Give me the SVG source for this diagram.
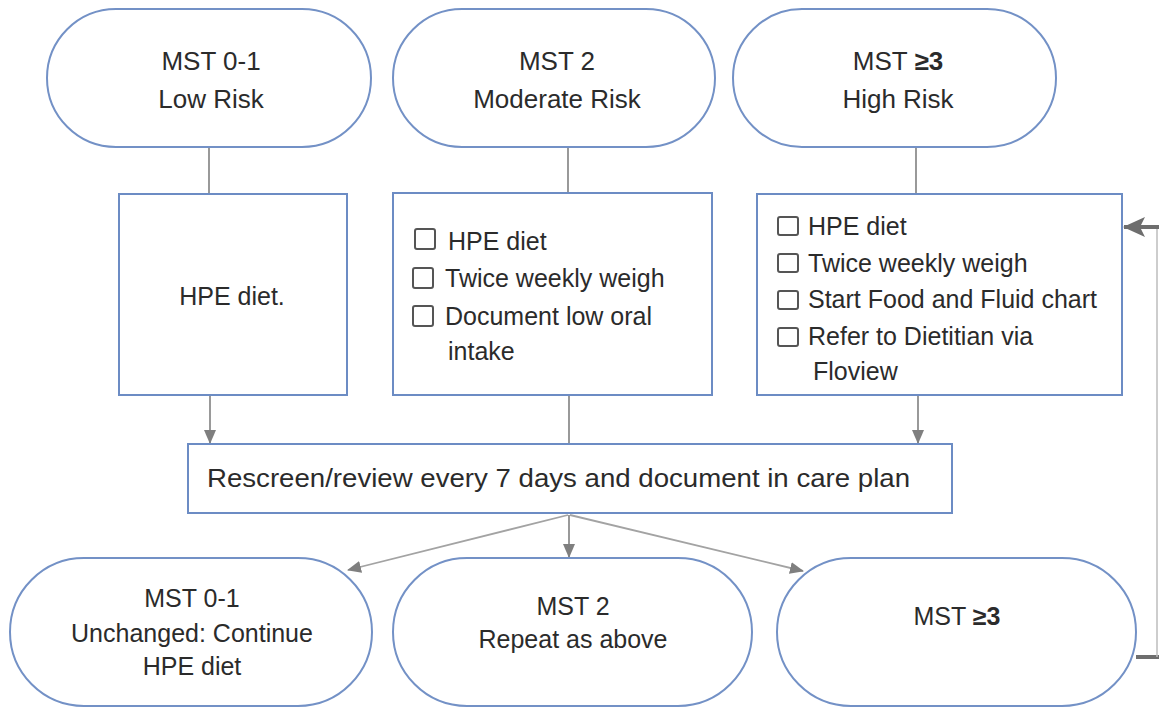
<svg xmlns="http://www.w3.org/2000/svg" width="1159" height="709" viewBox="0 0 1159 709">
<defs>
<style>
.term{fill:#fff;stroke:#7391c6;stroke-width:2}
.box{fill:#fff;stroke:#6c8cc4;stroke-width:2}
.t{font-family:"Liberation Sans",Arial,sans-serif;fill:#2b2b2b}
.title{font-size:26px;text-anchor:middle}
.bt{font-size:25px;text-anchor:middle}
.body{font-size:25px}
.cb{fill:none;stroke:#555;stroke-width:2}
.c{fill:none;stroke:#808080;stroke-width:1.6}
.cl{fill:none;stroke:#a3a3a3;stroke-width:1.8}
.fb{fill:none;stroke:#6e6e6e;stroke-width:4}
.fbv{fill:none;stroke:#bdbdbd;stroke-width:1.5}
</style>
<marker id="ah" markerUnits="userSpaceOnUse" markerWidth="14" markerHeight="12" refX="13" refY="6" orient="auto">
<path d="M0,0 L14,6 L0,12 z" fill="#7f7f7f"/>
</marker>
<marker id="ahb" markerUnits="userSpaceOnUse" markerWidth="22" markerHeight="20" refX="21" refY="10" orient="auto">
<path d="M0,0 L22,10 L0,20 L5,10 z" fill="#6e6e6e"/>
</marker>
</defs>

<g id="connectors">
<line class="c" x1="209" y1="147" x2="209" y2="194"/>
<line class="c" x1="568" y1="147" x2="568" y2="193"/>
<line class="c" x1="916" y1="147" x2="916" y2="194"/>
<line class="c" x1="210" y1="396" x2="210" y2="443" marker-end="url(#ah)"/>
<line class="c" x1="569" y1="396" x2="569" y2="444"/>
<line class="c" x1="918" y1="396" x2="918" y2="443" marker-end="url(#ah)"/>
<line class="cl" x1="568" y1="515" x2="348" y2="570" marker-end="url(#ah)"/>
<line class="c" x1="569" y1="515" x2="569" y2="557" marker-end="url(#ah)"/>
<line class="cl" x1="570" y1="515" x2="803" y2="571" marker-end="url(#ah)"/>
<path class="fb" d="M1136,657 L1159,657"/>
<line class="fbv" x1="1157" y1="657" x2="1157" y2="227"/>
<path class="fb" d="M1159,227 L1124,227" marker-end="url(#ahb)"/>
</g>

<g id="top-low">
<rect class="term" x="47" y="9" width="324" height="138" rx="69"/>
<text class="t title" x="211" y="70">MST 0-1</text>
<text class="t title" x="211" y="108">Low Risk</text>
</g>
<g id="top-moderate">
<rect class="term" x="393" y="9" width="322" height="138" rx="69"/>
<text class="t title" x="557" y="70">MST 2</text>
<text class="t title" x="557" y="108">Moderate Risk</text>
</g>
<g id="top-high">
<rect class="term" x="733" y="9" width="323" height="138" rx="69"/>
<text class="t title" x="898" y="70">MST <tspan font-weight="bold">≥3</tspan></text>
<text class="t title" x="898" y="108">High Risk</text>
</g>

<g id="box-low">
<rect class="box" x="119" y="194" width="228" height="201"/>
<text class="t bt" x="232" y="305">HPE diet.</text>
</g>
<g id="box-moderate">
<rect class="box" x="393" y="193" width="319" height="202"/>
<rect class="cb" x="415" y="229" width="20" height="20" rx="2"/>
<text class="t body" x="448" y="250">HPE diet</text>
<rect class="cb" x="413" y="268" width="20" height="20" rx="2"/>
<text class="t body" x="445" y="287">Twice weekly weigh</text>
<rect class="cb" x="413" y="306" width="20" height="20" rx="2"/>
<text class="t body" x="445" y="325">Document low oral</text>
<text class="t body" x="448" y="360">intake</text>
</g>
<g id="box-high">
<rect class="box" x="757" y="194" width="365" height="201"/>
<rect class="cb" x="778" y="217" width="20" height="18" rx="2"/>
<text class="t body" x="808" y="235">HPE diet</text>
<rect class="cb" x="778" y="254" width="20" height="18" rx="2"/>
<text class="t body" x="808" y="272">Twice weekly weigh</text>
<rect class="cb" x="778" y="291" width="20" height="18" rx="2"/>
<text class="t body" x="808" y="308">Start Food and Fluid chart</text>
<rect class="cb" x="778" y="328" width="20" height="18" rx="2"/>
<text class="t body" x="808" y="345">Refer to Dietitian via</text>
<text class="t body" x="813" y="380">Floview</text>
</g>

<g id="rescreen">
<rect class="box" x="188" y="444" width="764" height="69"/>
<text class="t body" x="207" y="487" textLength="703" lengthAdjust="spacingAndGlyphs">Rescreen/review every 7 days and document in care plan</text>
</g>

<g id="bottom-low">
<rect class="term" x="10" y="558" width="362" height="148" rx="74"/>
<text class="t bt" x="192" y="607">MST 0-1</text>
<text class="t bt" x="192" y="642">Unchanged: Continue</text>
<text class="t bt" x="192" y="675">HPE diet</text>
</g>
<g id="bottom-moderate">
<rect class="term" x="393" y="558" width="359" height="148" rx="74"/>
<text class="t bt" x="573" y="615">MST 2</text>
<text class="t bt" x="573" y="648">Repeat as above</text>
</g>
<g id="bottom-high">
<rect class="term" x="777" y="558" width="359" height="148" rx="74"/>
<text class="t bt" x="957" y="625">MST <tspan font-weight="bold">≥3</tspan></text>
</g>
</svg>
